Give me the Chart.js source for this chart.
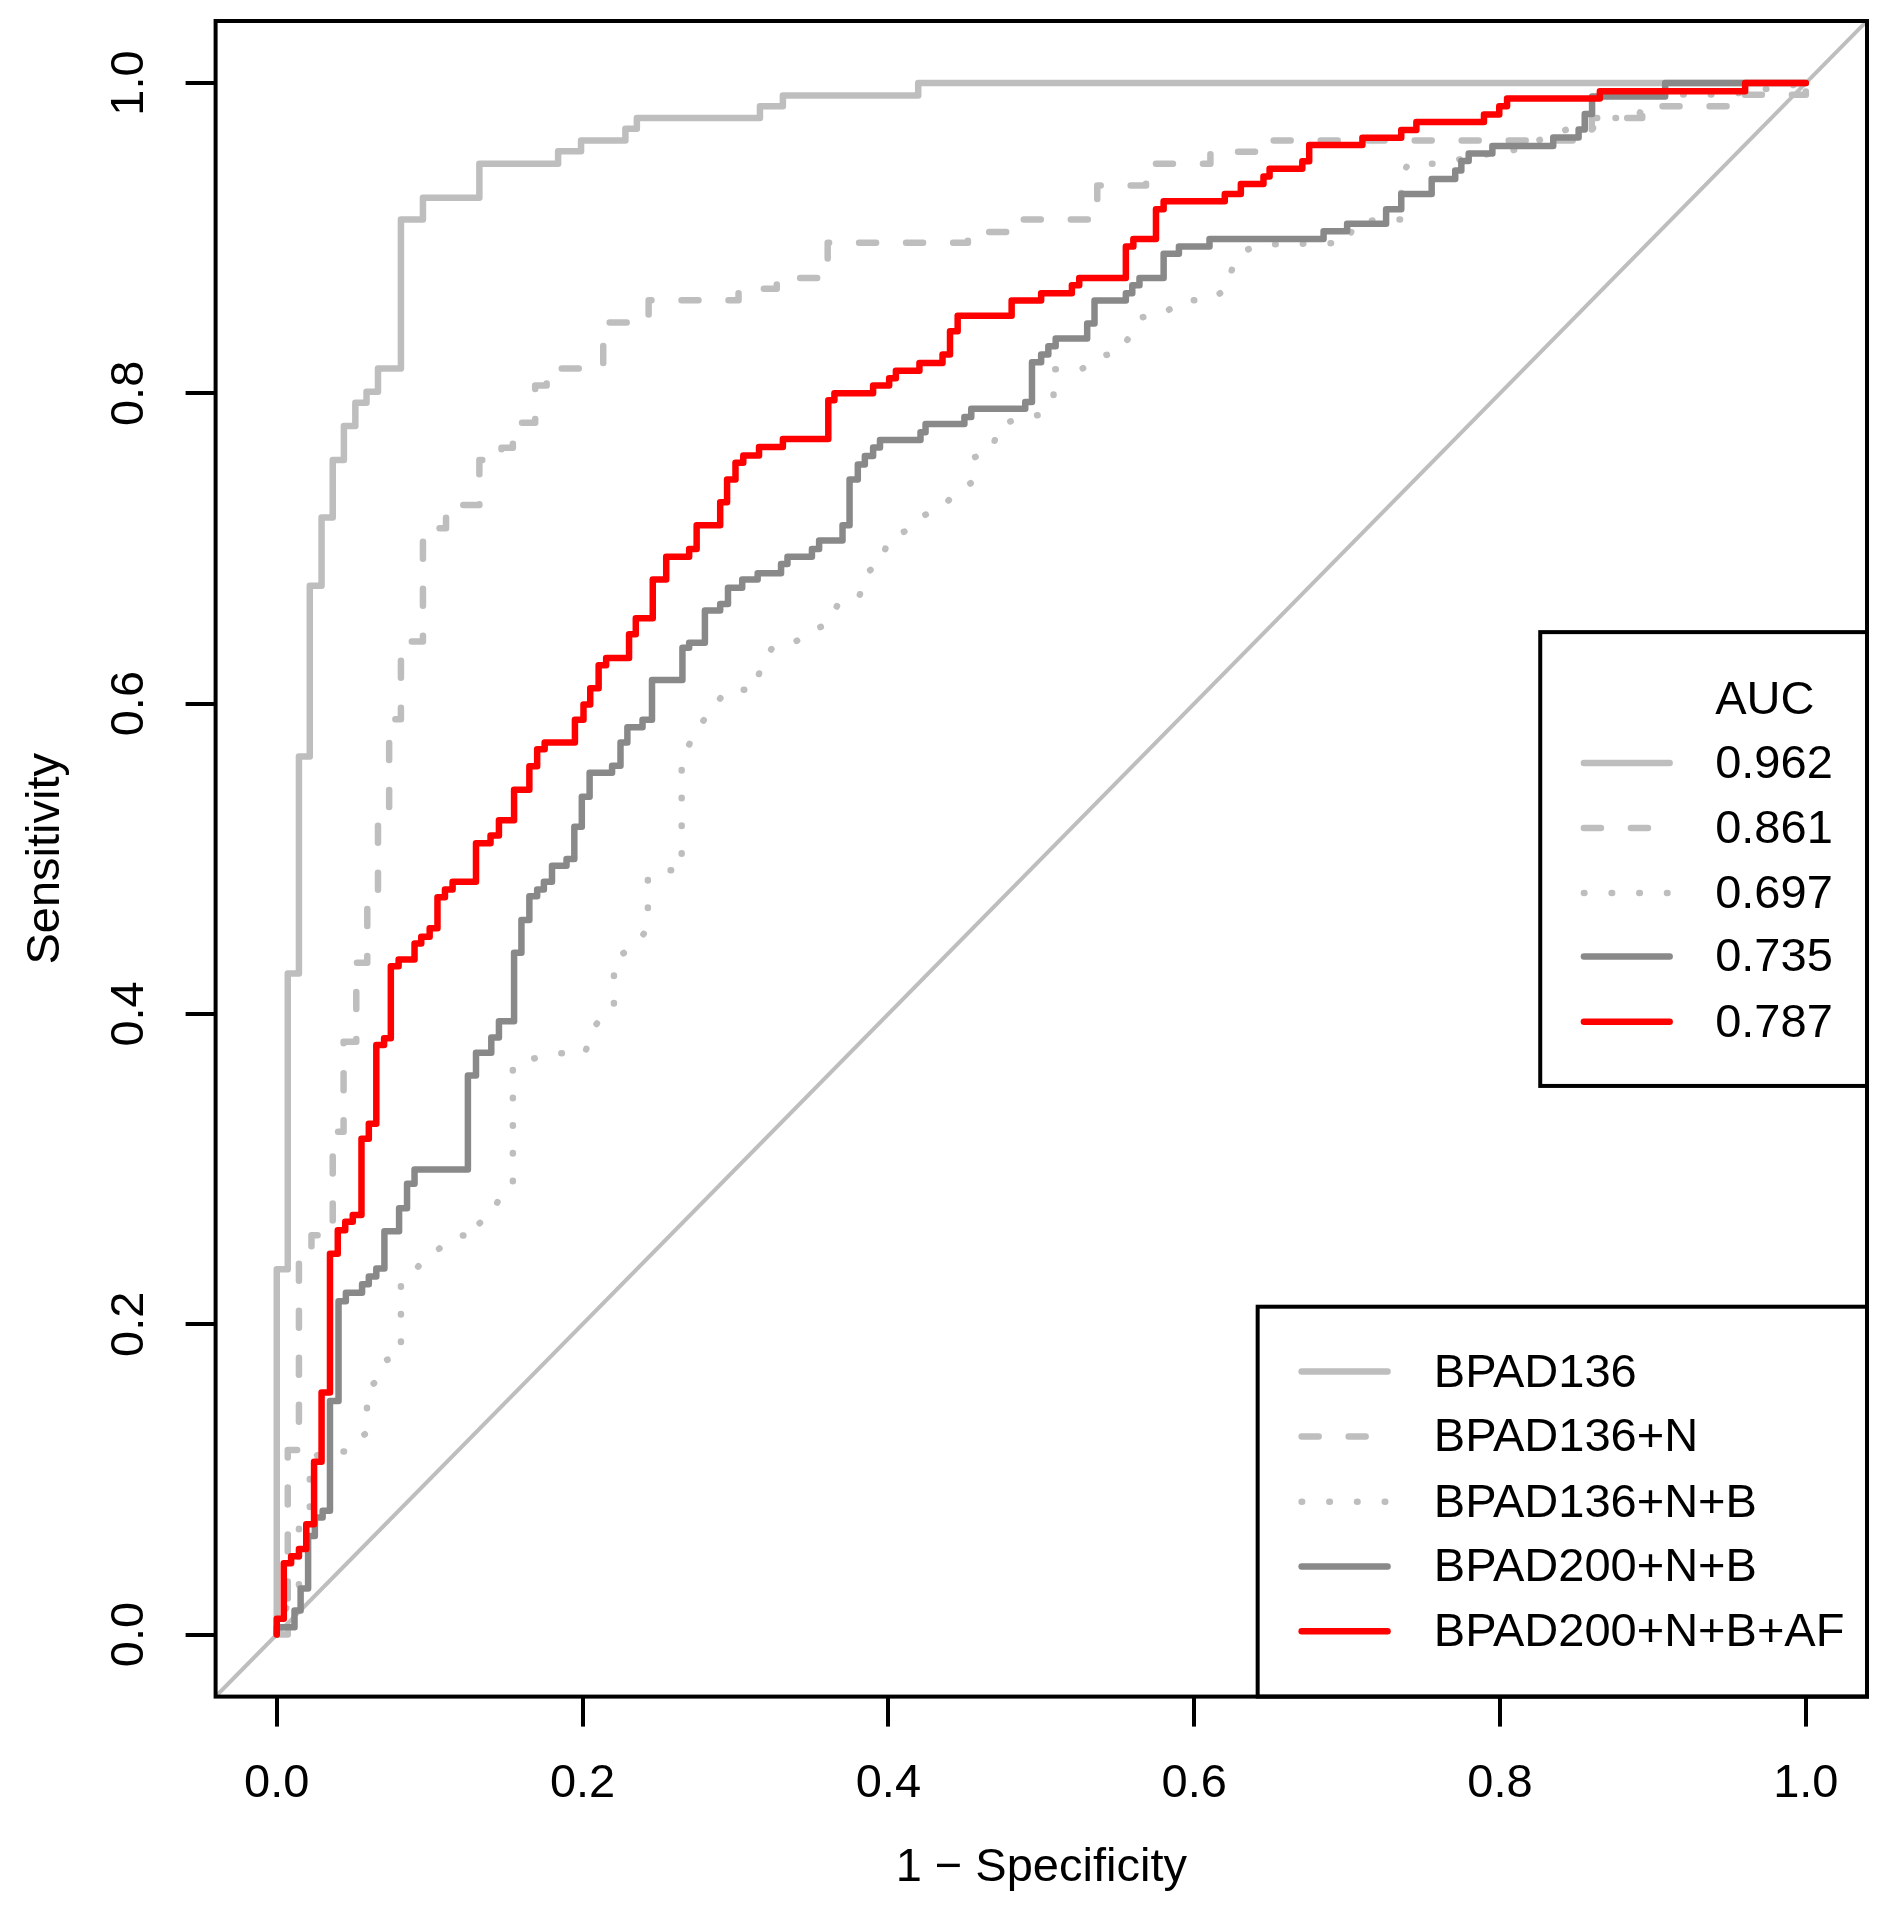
<!DOCTYPE html>
<html>
<head>
<meta charset="utf-8">
<script src="https://cdn.jsdelivr.net/npm/chart.js@4.4.1/dist/chart.umd.min.js"></script>
<style>
  html, body { margin: 0; padding: 0; background: #ffffff; }
  canvas { display: block; }
</style>
</head>
<body>
<canvas id="c" width="1886" height="1911"></canvas>
<script>
// ---------------- data ----------------
const seriesNames = ['BPAD136', 'BPAD136+N', 'BPAD136+N+B', 'BPAD200+N+B', 'BPAD200+N+B+AF'];
const aucTitle = 'AUC';
const aucValues = ['0.962', '0.861', '0.697', '0.735', '0.787'];
const xTitle = '1 \u2212 Specificity';
const yTitle = 'Sensitivity';
const xTickValues = [0, 0.2, 0.4, 0.6, 0.8, 1.0];
const xTickLabels = ['0.0', '0.2', '0.4', '0.6', '0.8', '1.0'];
const yTickValues = [0, 0.2, 0.4, 0.6, 0.8, 1.0];
const yTickLabels = ['0.0', '0.2', '0.4', '0.6', '0.8', '1.0'];

// Step curves: at each riseX the curve rises vertically to riseY (after moving horizontally)
const bpad136X = [0, 0.0072, 0.0145, 0.0216, 0.0293, 0.0366, 0.0439, 0.0514, 0.0587, 0.0662, 0.0812, 0.0956, 0.1325, 0.184, 0.199, 0.228, 0.2355, 0.316, 0.331, 0.4195, 1];
const bpad136Y = [0.2355, 0.426, 0.566, 0.676, 0.720, 0.757, 0.779, 0.794, 0.801, 0.816, 0.912, 0.926, 0.948, 0.956, 0.963, 0.9705, 0.9775, 0.985, 0.992, 1, 1];

const bpad136nX = [0.0072, 0.0145, 0.0227, 0.0366, 0.0437, 0.052, 0.0592, 0.0662, 0.0735, 0.0812, 0.0956, 0.1107, 0.1325, 0.147, 0.1544, 0.169, 0.1765, 0.2135, 0.2432, 0.302, 0.327, 0.3603, 0.452, 0.477, 0.5366, 0.5685, 0.6106, 0.65, 0.86, 0.893, 0.958, 1];
const bpad136nY = [0.119, 0.2497, 0.2573, 0.324, 0.382, 0.433, 0.471, 0.533, 0.59, 0.64, 0.713, 0.728, 0.757, 0.765, 0.781, 0.805, 0.816, 0.8457, 0.860, 0.8675, 0.8744, 0.897, 0.904, 0.912, 0.934, 0.948, 0.9557, 0.963, 0.9775, 0.985, 0.9925, 1];

// Dotted curve: polyline through the read points
const bpad136nbX = [0, 0.0072, 0.0145, 0.0145, 0.0216, 0.0216, 0.03, 0.045, 0.051, 0.059, 0.059, 0.066, 0.072, 0.0812, 0.0812, 0.0886, 0.097, 0.108, 0.119, 0.1325, 0.1325, 0.141, 0.147, 0.1544, 0.1544, 0.169, 0.184, 0.2016, 0.206, 0.2134, 0.2205, 0.2205, 0.228, 0.2377, 0.2427, 0.2427, 0.2485, 0.2648, 0.2648, 0.2657, 0.272, 0.279, 0.287, 0.295, 0.313, 0.3165, 0.324, 0.338, 0.349, 0.360, 0.3675, 0.381, 0.385, 0.3956, 0.3996, 0.412, 0.421, 0.434, 0.443, 0.454, 0.456, 0.468, 0.472, 0.485, 0.5006, 0.508, 0.508, 0.5264, 0.537, 0.5518, 0.5584, 0.566, 0.581, 0.5916, 0.610, 0.621, 0.625, 0.6325, 0.646, 0.70, 0.705, 0.722, 0.7354, 0.7354, 0.740, 0.7586, 0.80, 0.806, 0.846, 0.8646, 0.87, 0.89, 0.8967, 0.95, 1];
const bpad136nbY = [0, 0.02, 0.03, 0.075, 0.08, 0.112, 0.118, 0.118, 0.125, 0.13, 0.158, 0.164, 0.177, 0.18, 0.227, 0.233, 0.242, 0.250, 0.257, 0.258, 0.265, 0.272, 0.284, 0.29, 0.367, 0.3715, 0.3747, 0.3747, 0.389, 0.3996, 0.405, 0.435, 0.44, 0.4487, 0.455, 0.487, 0.4926, 0.4926, 0.56, 0.566, 0.578, 0.589, 0.600, 0.609, 0.609, 0.624, 0.636, 0.639, 0.647, 0.651, 0.665, 0.669, 0.684, 0.691, 0.7056, 0.7117, 0.7204, 0.7258, 0.7346, 0.7422, 0.7586, 0.764, 0.7788, 0.784, 0.7864, 0.7984, 0.8156, 0.8156, 0.8233, 0.8272, 0.838, 0.849, 0.852, 0.8598, 0.8603, 0.867, 0.881, 0.892, 0.896, 0.897, 0.91, 0.912, 0.912, 0.94, 0.948, 0.948, 0.9557, 0.9557, 0.971, 0.971, 0.9775, 0.9775, 0.9927, 0.9927, 1];

const bpad200nbX = [0, 0.0116, 0.0156, 0.0205, 0.0249, 0.030, 0.0348, 0.0404, 0.0452, 0.0558, 0.0602, 0.0651, 0.0704, 0.080, 0.0852, 0.0901, 0.125, 0.1303, 0.1403, 0.1453, 0.1552, 0.160, 0.1652, 0.1703, 0.1747, 0.180, 0.1895, 0.1946, 0.1995, 0.2046, 0.2193, 0.2248, 0.2293, 0.2392, 0.2454, 0.2653, 0.2697, 0.280, 0.290, 0.2951, 0.3044, 0.3145, 0.3298, 0.334, 0.350, 0.3547, 0.370, 0.3746, 0.380, 0.3846, 0.390, 0.3945, 0.421, 0.4243, 0.4497, 0.4542, 0.4895, 0.4939, 0.4999, 0.5046, 0.5094, 0.530, 0.5348, 0.5553, 0.5595, 0.5642, 0.580, 0.590, 0.610, 0.6846, 0.700, 0.7255, 0.7354, 0.7553, 0.7707, 0.7747, 0.7795, 0.795, 0.8348, 0.8514, 0.8554, 0.8602, 0.908, 1];
const bpad200nbY = [0.0047, 0.0155, 0.0297, 0.0635, 0.0755, 0.0798, 0.1506, 0.2149, 0.2203, 0.2258, 0.2308, 0.236, 0.26, 0.2748, 0.2905, 0.2998, 0.3604, 0.375, 0.3848, 0.3953, 0.4395, 0.4606, 0.4758, 0.4802, 0.4852, 0.4955, 0.4998, 0.5206, 0.540, 0.5554, 0.560, 0.575, 0.5848, 0.5896, 0.6153, 0.636, 0.6393, 0.660, 0.6643, 0.6747, 0.680, 0.684, 0.690, 0.6947, 0.6997, 0.7052, 0.715, 0.7444, 0.7542, 0.7597, 0.7651, 0.770, 0.7749, 0.7803, 0.7847, 0.7901, 0.7945, 0.820, 0.825, 0.8304, 0.8354, 0.845, 0.8598, 0.8646, 0.8697, 0.8744, 0.890, 0.8947, 0.8995, 0.9045, 0.9093, 0.9187, 0.9285, 0.9381, 0.9436, 0.9498, 0.9546, 0.9594, 0.9649, 0.970, 0.980, 0.9913, 1, 1];

const bpad200nbafX = [0, 0.0046, 0.0094, 0.0145, 0.0193, 0.0244, 0.0293, 0.0348, 0.0399, 0.0448, 0.0497, 0.0554, 0.0602, 0.0651, 0.0702, 0.0746, 0.0797, 0.0901, 0.0945, 0.100, 0.1051, 0.110, 0.115, 0.1303, 0.1398, 0.1453, 0.1552, 0.1652, 0.1703, 0.1752, 0.195, 0.2006, 0.205, 0.2105, 0.2154, 0.2304, 0.2348, 0.2459, 0.2547, 0.2697, 0.2746, 0.290, 0.2945, 0.300, 0.3051, 0.3154, 0.331, 0.3607, 0.3647, 0.390, 0.4005, 0.4049, 0.4203, 0.4354, 0.4403, 0.4453, 0.4806, 0.4999, 0.520, 0.5248, 0.5553, 0.5602, 0.575, 0.580, 0.620, 0.6305, 0.6453, 0.6493, 0.6707, 0.6752, 0.710, 0.7354, 0.7453, 0.7895, 0.7995, 0.8046, 0.8653, 0.9603, 1];
const bpad200nbafY = [0.0101, 0.046, 0.0504, 0.0552, 0.0711, 0.1114, 0.156, 0.2454, 0.2606, 0.266, 0.2704, 0.3195, 0.3293, 0.380, 0.3844, 0.4308, 0.4351, 0.4454, 0.4497, 0.4552, 0.4752, 0.4802, 0.4852, 0.510, 0.515, 0.5249, 0.5445, 0.5597, 0.5706, 0.575, 0.5896, 0.5994, 0.6099, 0.6247, 0.6295, 0.6447, 0.6551, 0.680, 0.6947, 0.6997, 0.715, 0.7298, 0.7444, 0.7553, 0.760, 0.7655, 0.7705, 0.7956, 0.800, 0.805, 0.8098, 0.8146, 0.8196, 0.825, 0.840, 0.850, 0.8598, 0.8646, 0.8697, 0.8744, 0.8947, 0.8995, 0.9187, 0.9238, 0.9285, 0.935, 0.9398, 0.9448, 0.9496, 0.960, 0.9648, 0.9698, 0.9749, 0.9797, 0.985, 0.990, 0.9948, 1, 1];

const diagX = [-0.04, 1.04];
const diagY = [-0.04, 1.04];

// ---------------- styles ----------------
const FONT = '"Liberation Sans", Arial, Helvetica, sans-serif';
const FS = 47;
const lightGrey = '#BEBEBE';
const darkGrey = '#898989';
const red = '#FF0000';
const LW = 6.5;
const dashPat = [17, 30];
const dotPat = [0.5, 27.2];
const seriesStyles = [
  { color: lightGrey, dash: [] },
  { color: lightGrey, dash: dashPat },
  { color: lightGrey, dash: dotPat },
  { color: darkGrey, dash: [] },
  { color: red, dash: [] }
];

function stepPoints(xs, ys) {
  const pts = [{ x: 0, y: 0 }];
  let prevY = 0;
  for (let i = 0; i < xs.length; i++) {
    pts.push({ x: xs[i], y: prevY });
    pts.push({ x: xs[i], y: ys[i] });
    prevY = ys[i];
  }
  return pts;
}
function polyPoints(xs, ys) {
  return xs.map((x, i) => ({ x: x, y: ys[i] }));
}

const curveData = [
  stepPoints(bpad136X, bpad136Y),
  stepPoints(bpad136nX, bpad136nY),
  polyPoints(bpad136nbX, bpad136nbY),
  stepPoints(bpad200nbX, bpad200nbY),
  stepPoints(bpad200nbafX, bpad200nbafY)
];

const datasets = curveData.map((d, i) => ({
  label: seriesNames[i],
  data: d,
  borderColor: seriesStyles[i].color,
  borderWidth: LW,
  borderDash: seriesStyles[i].dash,
  borderCapStyle: 'round',
  borderJoinStyle: 'round',
  pointRadius: 0,
  fill: false,
  tension: 0,
  order: 4 - i
}));
datasets.push({
  label: 'diagonal',
  data: polyPoints(diagX, diagY),
  borderColor: lightGrey,
  borderWidth: 4,
  pointRadius: 0,
  fill: false,
  tension: 0,
  order: 10
});

// legend placement (data coordinates)
const legendNames = { left: 0.6415, top: 0.2113, lineX0: 0.6683, lineX1: 0.7284, textX: 0.7567, rows: [0.1695, 0.1277, 0.0856, 0.0439, 0.0021] };
const legendAuc = { left: 0.8263, top: 0.6461, bottom: 0.3536, lineX0: 0.8529, lineX1: 0.9129, textX: 0.9407, titleY: 0.6032, rows: [0.5617, 0.5198, 0.4779, 0.4371, 0.3949] };
const TEXT_DY = 2;

const overlayPlugin = {
  id: 'overlay',
  afterDatasetsDraw(chart) {
    const ctx = chart.ctx;
    const xs = chart.scales.x, ys = chart.scales.y;
    const ca = chart.chartArea;
    const X = v => xs.getPixelForValue(v);
    const Y = v => ys.getPixelForValue(v);

    function drawSample(x0, x1, y, i) {
      ctx.save();
      ctx.strokeStyle = seriesStyles[i].color;
      ctx.lineWidth = LW;
      ctx.lineCap = 'round';
      ctx.setLineDash(seriesStyles[i].dash);
      ctx.beginPath();
      ctx.moveTo(x0 + 3, y);
      ctx.lineTo(x1 - 3, y);
      ctx.stroke();
      ctx.restore();
    }
    ctx.save();
    ctx.font = FS + 'px ' + FONT;
    ctx.fillStyle = '#000';
    ctx.textBaseline = 'middle';
    ctx.textAlign = 'left';

    // AUC legend box
    {
      const l = X(legendAuc.left), t = Y(legendAuc.top), b = Y(legendAuc.bottom), r = ca.right;
      ctx.fillStyle = '#fff';
      ctx.fillRect(l, t, r - l, b - t);
      ctx.lineWidth = 4;
      ctx.strokeStyle = '#000';
      ctx.strokeRect(l, t, r - l, b - t);
      ctx.fillStyle = '#000';
      ctx.fillText(aucTitle, X(legendAuc.textX), Y(legendAuc.titleY) + TEXT_DY);
      legendAuc.rows.forEach((ry, i) => {
        drawSample(X(legendAuc.lineX0), X(legendAuc.lineX1), Y(ry), i);
        ctx.fillText(aucValues[i], X(legendAuc.textX), Y(ry) + TEXT_DY);
      });
    }
    // series names legend box
    {
      const l = X(legendNames.left), t = Y(legendNames.top), b = ca.bottom, r = ca.right;
      ctx.fillStyle = '#fff';
      ctx.fillRect(l, t, r - l, b - t);
      ctx.lineWidth = 4;
      ctx.strokeStyle = '#000';
      ctx.strokeRect(l, t, r - l, b - t);
      ctx.fillStyle = '#000';
      legendNames.rows.forEach((ry, i) => {
        drawSample(X(legendNames.lineX0), X(legendNames.lineX1), Y(ry), i);
        ctx.fillText(seriesNames[i], X(legendNames.textX), Y(ry) + TEXT_DY);
      });
    }
    ctx.restore();
  },
  afterDraw(chart) {
    const ctx = chart.ctx;
    const ca = chart.chartArea;
    ctx.save();
    ctx.lineWidth = 4;
    ctx.strokeStyle = '#000';
    ctx.strokeRect(ca.left, ca.top, ca.right - ca.left, ca.bottom - ca.top);
    ctx.restore();
  }
};

const tickFont = { family: FONT, size: FS };
const gridOpts = {
  display: true,
  drawOnChartArea: false,
  drawTicks: true,
  tickLength: 30,
  tickWidth: 4,
  tickColor: '#000',
  lineWidth: 4,
  color: '#000'
};
function zeroPad(s) { s.paddingTop = 0; s.paddingBottom = 0; s.paddingLeft = 0; s.paddingRight = 0; }

new Chart(document.getElementById('c').getContext('2d'), {
  type: 'line',
  data: { datasets: datasets },
  options: {
    responsive: false,
    animation: false,
    devicePixelRatio: 1,
    layout: { padding: { top: 21, right: 19, left: 0, bottom: 0 } },
    plugins: { legend: { display: false }, tooltip: { enabled: false } },
    scales: {
      x: {
        type: 'linear',
        min: -0.04,
        max: 1.04,
        afterBuildTicks: s => { s.ticks = xTickValues.map(v => ({ value: v })); },
        afterFit: s => { s.height = 214.4; zeroPad(s); },
        ticks: {
          autoSkip: false,
          minRotation: 0,
          maxRotation: 0,
          padding: 29,
          color: '#000',
          font: tickFont,
          callback: (v, i) => xTickLabels[i]
        },
        grid: gridOpts,
        border: { display: false },
        title: { display: true, text: xTitle, color: '#000', font: tickFont, padding: { top: 0, bottom: 15 } }
      },
      y: {
        type: 'linear',
        min: -0.04,
        max: 1.04,
        afterBuildTicks: s => { s.ticks = yTickValues.map(v => ({ value: v })); },
        afterFit: s => { s.width = 215.6; zeroPad(s); },
        ticks: {
          autoSkip: false,
          minRotation: 90,
          maxRotation: 90,
          crossAlign: 'center',
          padding: 23,
          color: '#000',
          font: tickFont,
          callback: (v, i) => yTickLabels[i]
        },
        grid: gridOpts,
        border: { display: false },
        title: { display: true, text: yTitle, color: '#000', font: tickFont, padding: { top: 17.5, bottom: 0 } }
      }
    }
  },
  plugins: [overlayPlugin]
});
</script>
</body>
</html>
